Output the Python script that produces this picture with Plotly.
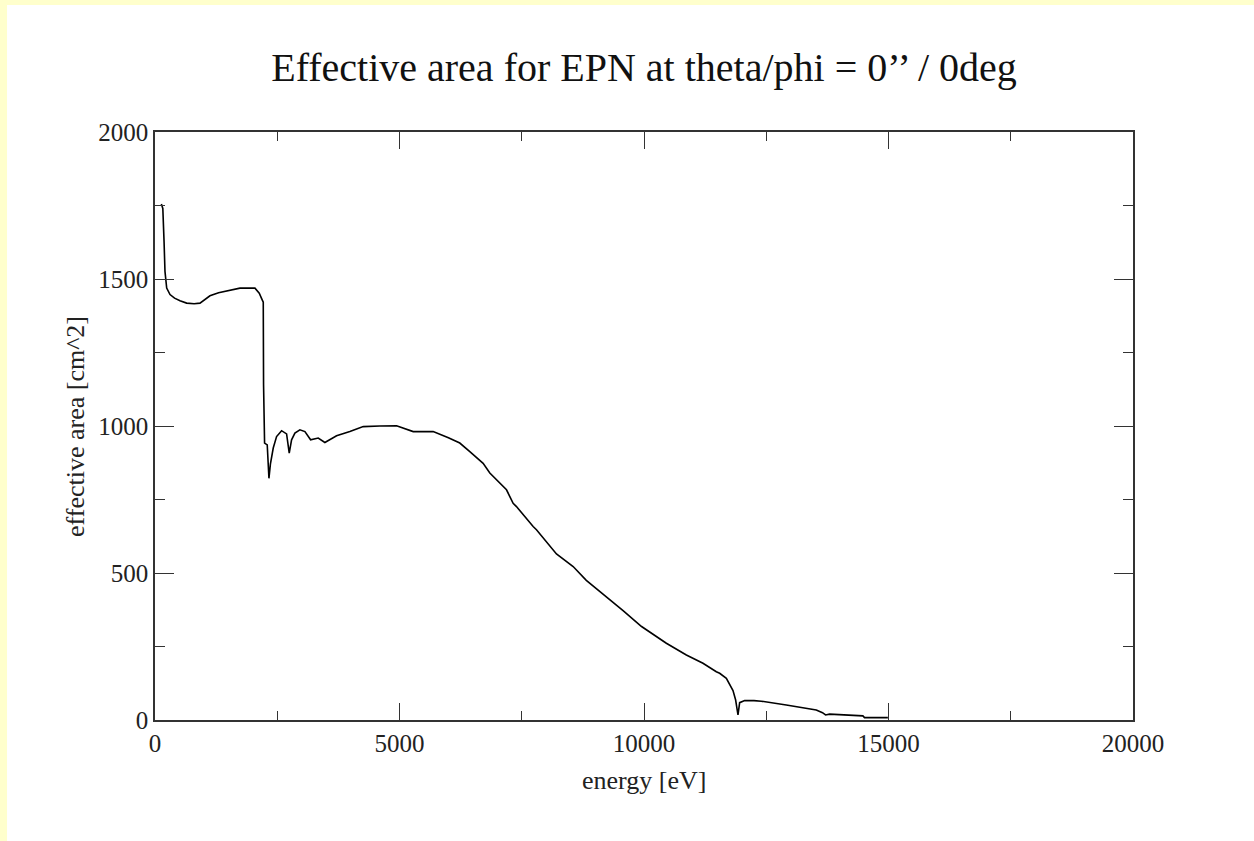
import plotly.graph_objects as go

# Effective area curve
energy_ev = [130, 160, 185, 204, 239, 307, 400, 511, 647, 800, 920, 1124, 1300, 1465, 1737,
             2044, 2132, 2190, 2214, 2220, 2241, 2295, 2315, 2330, 2360, 2418, 2486, 2589,
             2691, 2745, 2793, 2861, 2963, 3066, 3182, 3338, 3474, 3713, 3985, 4258, 4600,
             4940, 5280, 5689, 6000, 6233, 6438, 6710, 6847, 7051, 7188, 7324, 7392, 7733,
             7801, 8210, 8551, 8820, 9150, 9572, 9950, 10457, 10866, 11206, 11479, 11547,
             11684, 11760, 11820, 11874, 11908, 11922, 11956, 12058, 12250, 12399, 12910,
             13523, 13650, 13713, 13795, 14200, 14476, 14510, 14987]
area_cm2 = [1755, 1740, 1628, 1526, 1469, 1447, 1435, 1426, 1418, 1416, 1418, 1443, 1453, 1460, 1469,
            1469, 1452, 1430, 1421, 1140, 942, 936, 880, 822, 870, 925, 964, 984,
            973, 908, 953, 976, 987, 981, 953, 959, 944, 967, 981, 998, 1000,
            1001, 981, 981, 960, 942, 913, 873, 840, 808, 783, 737, 726, 658,
            647, 565, 522, 475, 431, 372, 318, 261, 221, 193, 164, 159,
            142, 118, 100, 68, 40, 17, 59, 66, 66, 64, 51,
            34, 25, 17, 20, 16, 14, 8, 8]

title_text = "Effective area for EPN at theta/phi = 0\u2019\u2019 / 0deg"
x_title = "energy [eV]"
y_title = "effective area [cm^2]"
x_ticks = [0, 5000, 10000, 15000, 20000]
x_tick_labels = ["0", "5000", "10000", "15000", "20000"]
y_ticks = [0, 500, 1000, 1500, 2000]
y_tick_labels = ["0", "500", "1000", "1500", "2000"]

FONT = "Liberation Serif, Times New Roman, serif"
AX = "#333333"

fig = go.Figure()
fig.add_trace(go.Scatter(x=energy_ev, y=area_cm2, mode="lines",
                         line=dict(color="black", width=1.6), showlegend=False,
                         hoverinfo="x+y"))

axis_common = dict(
    showgrid=False, zeroline=False, showline=True, linecolor=AX, linewidth=1.6,
    mirror="ticks", ticks="inside", tickcolor=AX, tickwidth=1.4,
    tickfont=dict(family=FONT, size=25, color="#222222"),
)
fig.update_xaxes(range=[0, 20000], tickvals=x_ticks, ticktext=x_tick_labels, ticklen=17,
                 minor=dict(ticks="inside", ticklen=9, dtick=2500, tickcolor=AX, tickwidth=1.4),
                 **axis_common)
fig.update_yaxes(range=[0, 2000], tickvals=y_ticks, ticktext=y_tick_labels, ticklen=19,
                 minor=dict(ticks="inside", ticklen=10, dtick=250, tickcolor=AX, tickwidth=1.4),
                 **axis_common)

# white page area; the yellow paper shows only as the thin left/top border
fig.add_shape(type="rect", xref="paper", yref="paper", x0=-0.1513, x1=1.13, y0=-0.21, y1=1.216,
              fillcolor="white", line=dict(width=0), layer="below")

fig.add_annotation(text=x_title, xref="paper", yref="paper", x=0.5, y=-0.1037,
                   showarrow=False, xanchor="center", yanchor="middle",
                   font=dict(family=FONT, size=26, color="#222222"))
fig.add_annotation(text=y_title, xref="paper", yref="paper", x=-0.0818, y=0.5,
                   showarrow=False, xanchor="center", yanchor="middle", textangle=-90,
                   font=dict(family=FONT, size=26, color="#222222"))

fig.update_layout(
    width=1254, height=841,
    margin=dict(l=155, r=121, t=132, b=121),
    paper_bgcolor="#FFFFCC", plot_bgcolor="white",
    title=dict(text=title_text, x=0.5, xref="paper", y=1 - 67 / 841, yref="container",
               xanchor="center", yanchor="middle",
               font=dict(family=FONT, size=40, color="#111111")),
)

fig.write_html("out.html", config={"displayModeBar": False},
               post_script="document.body.style.margin='0px';document.body.style.overflow='hidden';")
